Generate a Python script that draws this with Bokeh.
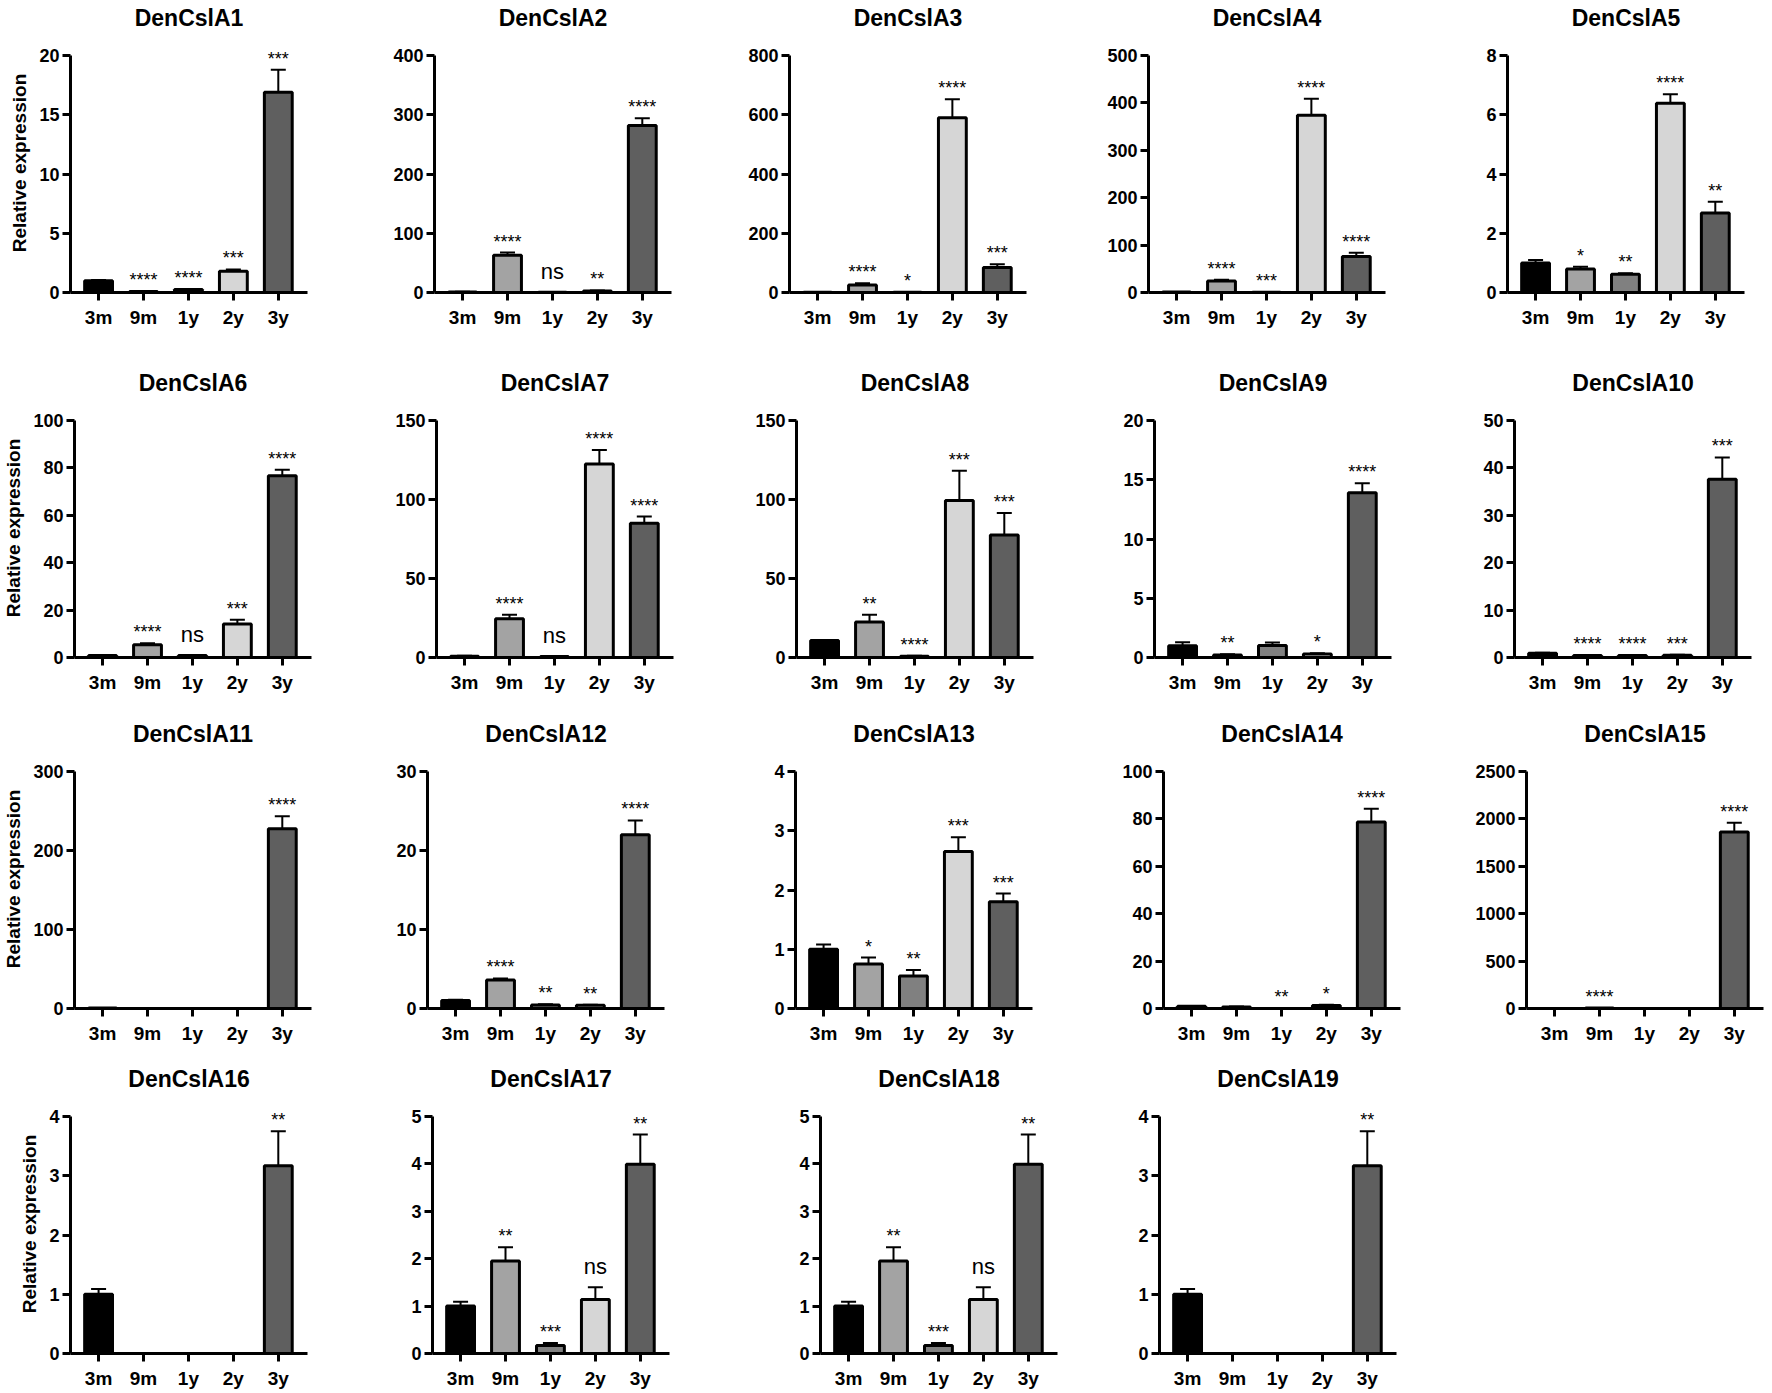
from bokeh.core.properties import value
from bokeh.embed import file_html
from bokeh.layouts import column, row
from bokeh.models import ColumnDataSource, FixedTicker, Range1d, TeeHead, Whisker
from bokeh.plotting import figure
from bokeh.resources import INLINE

stages = ["3m", "9m", "1y", "2y", "3y"]
stage_colors = ["#000000", "#a3a3a3", "#808080", "#d6d6d6", "#5f5f5f"]

genes = ["DenCslA1", "DenCslA2", "DenCslA3", "DenCslA4", "DenCslA5",
         "DenCslA6", "DenCslA7", "DenCslA8", "DenCslA9", "DenCslA10",
         "DenCslA11", "DenCslA12", "DenCslA13", "DenCslA14", "DenCslA15",
         "DenCslA16", "DenCslA17", "DenCslA18", "DenCslA19"]

# y axis: top tick and tick step of every panel
y_max = [20, 400, 800, 500, 8, 100, 150, 150, 20, 50,
         300, 30, 4, 100, 2500, 4, 5, 5, 4]
y_step = [5, 100, 200, 100, 2, 20, 50, 50, 5, 10,
          100, 10, 1, 20, 500, 1, 1, 1, 1]

means = [
    [1.0, 0.08, 0.25, 1.8, 16.9],
    [1.0, 63, 0.3, 2.5, 282],
    [1.0, 25, 0.5, 590, 84],
    [1.0, 24, 0.5, 374, 76],
    [1.0, 0.79, 0.62, 6.39, 2.68],
    [0.8, 5.4, 0.8, 14.1, 76.7],
    [0.8, 24.5, 0.6, 122.4, 85.0],
    [10.7, 22.4, 0.8, 99.4, 77.6],
    [1.0, 0.22, 1.01, 0.3, 13.9],
    [0.9, 0.4, 0.4, 0.5, 37.6],
    [0.5, 0.1, 0.1, 0.1, 227.5],
    [1.0, 3.6, 0.45, 0.4, 22.0],
    [1.0, 0.75, 0.55, 2.65, 1.80],
    [0.9, 0.6, 0.05, 1.3, 78.7],
    [1.0, 5.0, 0.5, 0.5, 1861],
    [1.0, 0, 0, 0, 3.17],
    [1.0, 1.95, 0.17, 1.14, 3.99],
    [1.0, 1.95, 0.17, 1.14, 3.99],
    [1.0, 0, 0, 0, 3.17],
]
errors = [
    [0.06, 0.02, 0.03, 0.15, 1.9],
    [0.1, 4.5, 0.1, 1.0, 12],
    [0.1, 6, 0.1, 62, 11],
    [0.1, 3, 0.1, 35, 8],
    [0.1, 0.08, 0.03, 0.3, 0.38],
    [0.2, 0.6, 0.2, 1.8, 2.5],
    [0.3, 2.5, 0.2, 9.0, 4.2],
    [0, 4.6, 0.3, 18.8, 13.8],
    [0.28, 0.05, 0.26, 0.06, 0.8],
    [0.1, 0.05, 0.05, 0.1, 4.6],
    [0.1, 0, 0, 0, 16],
    [0.1, 0.2, 0.1, 0.08, 1.8],
    [0.08, 0.11, 0.1, 0.24, 0.14],
    [0.2, 0.2, 0.02, 0.3, 5.6],
    [0.1, 1.0, 0.1, 0.1, 99],
    [0.09, 0, 0, 0, 0.58],
    [0.09, 0.29, 0.05, 0.26, 0.63],
    [0.09, 0.29, 0.05, 0.26, 0.63],
    [0.09, 0, 0, 0, 0.58],
]
signif = [
    ["", "****", "****", "***", "***"],
    ["", "****", "ns", "**", "****"],
    ["", "****", "*", "****", "***"],
    ["", "****", "***", "****", "****"],
    ["", "*", "**", "****", "**"],
    ["", "****", "ns", "***", "****"],
    ["", "****", "ns", "****", "****"],
    ["", "**", "****", "***", "***"],
    ["", "**", "", "*", "****"],
    ["", "****", "****", "***", "***"],
    ["", "", "", "", "****"],
    ["", "****", "**", "**", "****"],
    ["", "*", "**", "***", "***"],
    ["", "", "**", "*", "****"],
    ["", "****", "", "", "****"],
    ["", "", "", "", "**"],
    ["", "**", "***", "ns", "**"],
    ["", "**", "***", "ns", "**"],
    ["", "", "", "", "**"],
]

FONT = "Liberation Sans"
FRAME_W = 237
TICK_H = 237      # pixels from 0 to the top tick
HEAD = 22         # room above the top tick for the stars
TOP = 31

panel_rows = [[0, 1, 2, 3, 4], [5, 6, 7, 8, 9], [10, 11, 12, 13, 14], [15, 16, 17, 18]]
# x of every panel's y axis, row by row
axis_x = [[71, 434, 789, 1148, 1507],
          [69, 432, 792, 1150, 1510],
          [70, 423, 791, 1159, 1522],
          [67, 432, 820, 1159]]
row_bottom = [73, 59, 53, 32]


def bar_panel(k, left, right, bottom, ylabel):
    top = y_max[k]
    x = list(range(len(stages)))
    upper = [m + e for m, e in zip(means[k], errors[k])]
    src = ColumnDataSource(dict(
        x=x, mean=means[k], upper=upper, color=stage_colors, sig=signif[k],
        fs=["22px" if s == "ns" else "18px" for s in signif[k]],
        yoff=[-8 if s == "ns" else -1 for s in signif[k]],
    ))
    p = figure(title=genes[k], frame_width=FRAME_W, frame_height=TICK_H + HEAD,
               x_range=Range1d(-0.625, 4.65),
               y_range=Range1d(0, top * (TICK_H + HEAD) / TICK_H),
               min_border_left=left, min_border_right=right,
               min_border_top=TOP, min_border_bottom=bottom,
               toolbar_location=None, tools="", output_backend="svg")
    p.title.align = "center"
    p.title.text_font = FONT
    p.title.text_font_size = "23px"
    p.title.text_font_style = "bold"
    p.title.text_color = "black"
    p.title.standoff = 5
    p.xgrid.visible = False
    p.ygrid.visible = False
    p.outline_line_color = None

    p.vbar(x="x", top="mean", width=0.62, source=src, fill_color="color",
           line_color="black", line_width=3)
    p.add_layout(Whisker(source=src, base="x", lower="mean", upper="upper",
                         line_width=2, line_color="black",
                         upper_head=TeeHead(size=15, line_width=2, line_color="black"),
                         lower_head=None))
    p.text(x="x", y="upper", text="sig", source=src, text_align="center",
           text_baseline="bottom", y_offset="yoff", text_font=value(FONT),
           text_font_size="fs", text_color="black")

    for ax in (p.xaxis[0], p.yaxis[0]):
        ax.axis_line_width = 3
        ax.major_tick_line_width = 3
        ax.major_tick_out = 8
        ax.major_tick_in = 0
        ax.minor_tick_line_color = None
        ax.major_label_text_font = FONT
        ax.major_label_text_font_style = "bold"
        ax.major_label_text_color = "black"
    p.xaxis.ticker = FixedTicker(ticks=x)
    p.xaxis.major_label_overrides = {i: s for i, s in enumerate(stages)}
    p.xaxis.major_label_text_font_size = "19px"
    p.xaxis.major_label_standoff = 6
    p.yaxis.ticker = FixedTicker(ticks=list(range(0, top + 1, y_step[k])))
    p.yaxis.bounds = (0, top)
    p.yaxis.major_label_text_font_size = "18px"
    p.yaxis.major_label_standoff = 3
    if ylabel:
        p.yaxis.axis_label = "Relative expression"
        p.yaxis.axis_label_text_font = FONT
        p.yaxis.axis_label_text_font_size = "19px"
        p.yaxis.axis_label_text_font_style = "bold"
        p.yaxis.axis_label_text_color = "black"
        p.yaxis.axis_label_standoff = 6
    return p


rows = []
for r, idxs in enumerate(panel_rows):
    xs = axis_x[r]
    figs = []
    for j, k in enumerate(idxs):
        if j == 0:
            left = 70
            right = xs[1] - 90 - left - FRAME_W
        else:
            left = 90
            right = xs[j + 1] - xs[j] - FRAME_W - 90 if j + 1 < len(idxs) else 4
        figs.append(bar_panel(k, left, right, row_bottom[r], j == 0))
    rows.append(row(*figs))

layout = column(*rows)
open("out.html", "w").write(file_html(layout, INLINE))
